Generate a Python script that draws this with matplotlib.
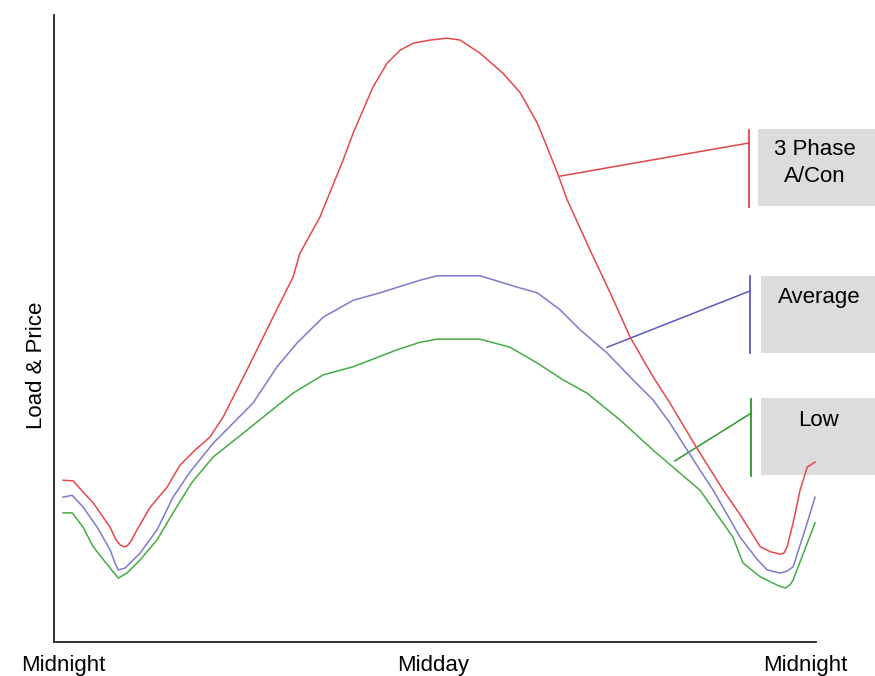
import matplotlib
matplotlib.use("Agg")
import matplotlib.pyplot as plt
from matplotlib.patches import Rectangle

plt.rcParams['font.family'] = ['Liberation Sans', 'DejaVu Sans']

# hours after midnight / relative load
ac_hours = [0.00, 0.32, 0.64, 0.96, 1.50, 1.69, 1.82, 1.95, 2.04, 2.17, 2.36, 2.78,
            3.32, 3.73, 4.21, 4.69, 5.11, 5.87, 6.70, 7.34, 7.56, 8.20, 8.94, 9.26,
            9.89, 10.34, 10.76, 11.17, 11.71, 12.26, 12.67, 13.31, 14.04, 14.59, 15.13,
            15.45, 15.80, 16.09, 16.82, 17.46, 18.10, 18.83, 19.37, 20.17, 21.07, 21.61,
            22.25, 22.57, 22.89, 23.01, 23.11, 23.30, 23.52, 23.75, 24.00]
ac_load = [25.8, 25.7, 23.9, 22.2, 18.3, 16.3, 15.5, 15.2, 15.3, 16.1, 17.9, 21.5,
           24.7, 28.2, 30.6, 32.7, 35.9, 43.4, 51.8, 58.2, 62.0, 67.8, 76.9, 81.2,
           88.5, 92.3, 94.4, 95.5, 96.0, 96.3, 96.0, 93.9, 90.7, 87.6, 82.8,
           78.9, 74.5, 70.5, 62.5, 55.7, 48.6, 42.3, 38.1, 31.4, 24.2, 20.3,
           15.2, 14.4, 14.0, 14.2, 15.2, 19.0, 24.2, 27.9, 28.7]

avg_hours = [0.00, 0.29, 0.64, 1.09, 1.50, 1.64, 1.76, 1.98, 2.46, 3.00, 3.51, 4.05,
             4.79, 6.06, 6.83, 7.47, 8.30, 9.26, 10.12, 11.39, 11.94, 13.31, 14.49,
             15.13, 15.86, 16.50, 17.36, 18.19, 18.83, 19.37, 20.33, 20.75, 21.61,
             22.15, 22.47, 22.89, 23.10, 23.30, 23.75, 24.00]
avg_load = [23.1, 23.4, 21.5, 18.3, 14.7, 12.8, 11.5, 11.8, 14.2, 17.9, 23.1, 27.1,
            31.7, 38.1, 43.9, 47.7, 51.8, 54.5, 55.7, 57.7, 58.4, 58.4, 56.6,
            55.7, 53.0, 49.8, 46.1, 41.8, 38.6, 34.9, 27.4, 24.2, 16.7,
            13.2, 11.5, 11.0, 11.3, 12.0, 19.0, 23.1]

low_hours = [0.00, 0.29, 0.64, 0.96, 1.37, 1.76, 2.04, 2.46, 3.00, 3.51, 4.12, 4.79,
             5.87, 7.34, 8.30, 9.26, 10.66, 11.39, 11.94, 13.31, 14.27, 15.13, 15.96,
             16.72, 17.78, 18.83, 20.33, 21.38, 21.70, 22.25, 22.82, 23.04, 23.20,
             23.30, 24.00]
low_load = [20.6, 20.6, 18.3, 15.2, 12.6, 10.2, 11.0, 13.1, 16.3, 20.6, 25.5, 29.5,
            33.8, 39.7, 42.6, 43.9, 46.6, 47.8, 48.3, 48.3, 47.0, 44.5, 41.8,
            39.7, 35.4, 30.6, 24.2, 16.7, 12.6, 10.4, 9.0, 8.6, 9.1,
            9.9, 19.0]

tick_pos = [0, 11.8, 23.7]
tick_labels = ['Midnight', 'Midday', 'Midnight']

RED, BLUE, GREEN = '#e5484c', '#7b7bcc', '#45ab45'

fig = plt.figure(figsize=(8.75, 6.76), dpi=100)
ax = fig.add_axes([54 / 875, 34 / 676, 762 / 875, 627 / 676])

ax.plot(ac_hours, ac_load, color=RED, lw=1.1, zorder=5, solid_joinstyle='round')
ax.plot(avg_hours, avg_load, color=BLUE, lw=1.1, zorder=5, solid_joinstyle='round')
ax.plot(low_hours, low_load, color=GREEN, lw=1.1, zorder=5, solid_joinstyle='round')

ax.set_xlim(-0.29, 24.03)
ax.set_ylim(0, 100)
ax.set_xticks(tick_pos)
ax.set_xticklabels(tick_labels, fontsize=16)
ax.tick_params(axis='x', length=0, pad=9)
ax.set_yticks([])
for s in ['top', 'right']:
    ax.spines[s].set_visible(False)
for s in ['left', 'bottom']:
    ax.spines[s].set_color('#222222')
    ax.spines[s].set_linewidth(1.3)

fig.text(37 / 875, 1 - 365 / 676, 'Load & Price', rotation=90, fontsize=16,
         ha='center', va='center')

# callouts: leader start, leader end / bracket x, bracket span, box span, label
callouts = [
    dict(text='3 Phase\nA/Con', col='#e0474b', start=(15.86, 74.3), end=(21.90, 79.6),
         br=(69.4, 81.7), box=(22.18, 69.5, 81.8), txt=(24.0, 76.4)),
    dict(text='Average', col='#5a5ac4', start=(17.36, 47.0), end=(21.93, 56.0),
         br=(46.1, 58.4), box=(22.28, 46.1, 58.4), txt=(24.13, 55.0)),
    dict(text='Low', col='#2a9a2a', start=(19.53, 28.9), end=(21.96, 36.5),
         br=(26.5, 38.8), box=(22.28, 26.6, 38.9), txt=(24.10, 35.4)),
]
for c in callouts:
    x0, y0 = c['start']
    x1, y1 = c['end']
    ax.plot([x0, x1], [y0, y1], color=c['col'], lw=1.1, zorder=4, clip_on=False)
    ax.plot([x1, x1], c['br'], color=c['col'], lw=1.3, zorder=4, clip_on=False)
    bx, by0, by1 = c['box']
    ax.add_patch(Rectangle((bx, by0), 25.95 - bx, by1 - by0, facecolor='#dcdcdc',
                           edgecolor='none', zorder=2, clip_on=False))
    ax.text(c['txt'][0], c['txt'][1], c['text'], fontsize=16, ha='center',
            va='center', linespacing=1.4, zorder=6, clip_on=False)

fig.savefig('out.png', dpi=100)
